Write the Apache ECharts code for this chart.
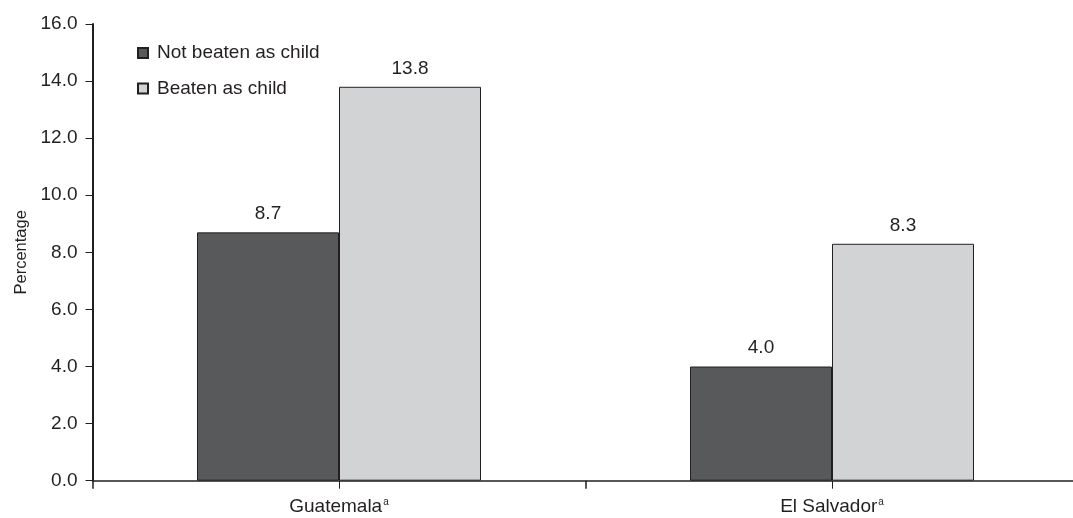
<!DOCTYPE html>
<html>
<head>
<meta charset="utf-8">
<script src="https://cdn.jsdelivr.net/npm/echarts@6/dist/echarts.min.js"></script>
<style>
  html, body { margin: 0; padding: 0; background: #fff; overflow: hidden; }
  /* the plot band runs a few pixels past the right edge of the window */
  #chart { width: 1080px; height: 518px; }
</style>
</head>
<body>
<div id="chart"></div>
<script>
// Share of respondents, by whether they were beaten as a child
const countries = ['Guatemala', 'El Salvador'];
const notBeaten = [8.7, 4.0];
const beaten = [13.8, 8.3];
const seriesNames = ['Not beaten as child', 'Beaten as child'];
const yTicks = { min: 0, max: 16, interval: 2 };

const FONT = '"Liberation Sans", Arial, Helvetica, sans-serif';
const INK = '#231f20';
const chart = echarts.init(document.getElementById('chart'), null, { renderer: 'canvas' });

const labelStyle = {
  show: true,
  position: 'top',
  distance: 9,
  color: INK,
  fontSize: 19,
  fontFamily: FONT,
  formatter: p => p.value.toFixed(1)
};

chart.setOption({
  animation: false,
  backgroundColor: '#fff',
  grid: { left: 92.5, width: 986, top: 24, height: 456.7, containLabel: false },
  legend: {
    orient: 'vertical',
    left: 132,
    top: 38,
    itemWidth: 10,
    itemHeight: 10,
    itemGap: 15.5,
    icon: 'rect',
    textStyle: { fontSize: 19, lineHeight: 20, fontFamily: FONT, color: INK, padding: [0, 0, 0, 4] },
    data: seriesNames
  },
  xAxis: [
    {
      type: 'category',
      data: countries,
      axisLine: { show: true, lineStyle: { color: INK, width: 1.5 } },
      axisTick: { show: true, alignWithLabel: true, length: 8, lineStyle: { color: INK } },
      axisLabel: {
        margin: 17,
        fontSize: 19,
        fontFamily: FONT,
        color: INK,
        formatter: v => v + '{sup|a}',
        rich: { sup: { fontSize: 10, verticalAlign: 'top', padding: [0, 0, 8, 1], fontFamily: FONT, color: INK } }
      },
      splitLine: { show: false }
    },
    {
      // boundary ticks between the country groups
      type: 'value',
      position: 'bottom',
      min: 0,
      max: 2,
      interval: 1,
      axisLine: { show: false },
      axisTick: { show: true, length: 8, lineStyle: { color: INK, width: 1.5 } },
      axisLabel: { show: false },
      splitLine: { show: false }
    }
  ],
  yAxis: {
    type: 'value',
    min: yTicks.min,
    max: yTicks.max,
    interval: yTicks.interval,
    name: 'Percentage',
    nameLocation: 'middle',
    nameGap: 62,
    nameTextStyle: { fontSize: 16.5, fontFamily: FONT, color: INK },
    axisLine: { show: true, lineStyle: { color: INK, width: 2 } },
    axisTick: { show: true, length: 7, lineStyle: { color: INK } },
    axisLabel: {
      margin: 15,
      fontSize: 19,
      fontFamily: FONT,
      color: INK,
      formatter: v => v.toFixed(1)
    },
    splitLine: { show: false }
  },
  series: [
    {
      name: seriesNames[0],
      type: 'bar',
      data: notBeaten,
      barWidth: 142,
      barGap: '0%',
      itemStyle: { color: '#58595b', borderColor: INK, borderWidth: 1 },
      label: labelStyle
    },
    {
      name: seriesNames[1],
      type: 'bar',
      data: beaten,
      barWidth: 142,
      barGap: '0%',
      itemStyle: { color: '#d1d3d4', borderColor: INK, borderWidth: 1 },
      label: labelStyle
    }
  ]
});
</script>
</body>
</html>
